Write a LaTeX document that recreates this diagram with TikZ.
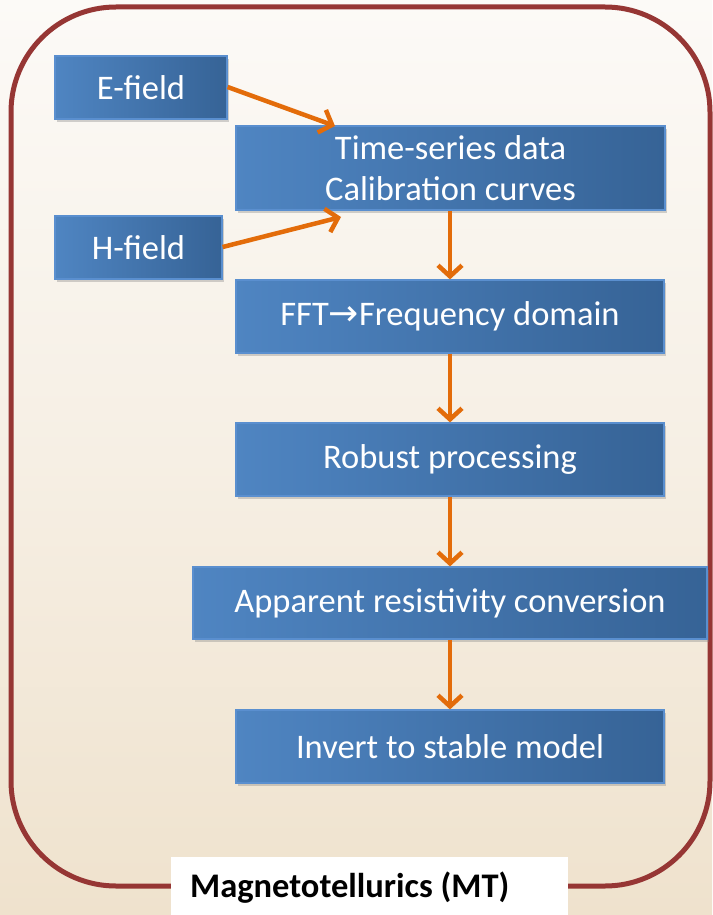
\documentclass[tikz,border=0pt]{standalone}
\usepackage{fontspec}
\setmainfont{Carlito}
\newfontfamily\arrowfont{DejaVu Sans}
\usetikzlibrary{arrows.meta,shadows}
\definecolor{boxL}{HTML}{4F85C2}
\definecolor{boxR}{HTML}{366396}
\definecolor{boxEdge}{HTML}{5A8FCF}
\definecolor{flowor}{HTML}{E36C0A}
\definecolor{frame}{HTML}{963634}
\definecolor{bgtop}{HTML}{FCFAF7}
\definecolor{bgmid}{HTML}{F6EFE4}
\definecolor{bgbot}{HTML}{EFE2CD}
\tikzset{
  stepbox/.style={draw=boxEdge, line width=1.2pt, left color=boxL, right color=boxR,
    text=white, font=\fontsize{34.5}{41}\selectfont, align=center, inner sep=0pt,
    drop shadow={opacity=0.35, shadow xshift=2pt, shadow yshift=-3pt}},
  flow/.style={draw=flowor, line width=4.5pt,
    -{Straight Barb[length=11pt,width=24pt,line width=4.5pt]}},
}
\begin{document}
\begin{tikzpicture}[x={(1pt,0)}, y={(0,-1pt)}]
\useasboundingbox (0,0) rectangle (712,915);
\shade[top color=bgtop, bottom color=bgbot, middle color=bgmid] (0,0) rectangle (712,915);
\draw[frame, line width=5pt, rounded corners=105pt] (11,7) rectangle (710,886);
% boxes
\node[stepbox, minimum width=172pt, minimum height=63pt] (e) at (141,87.5) {E-field};
\node[stepbox, minimum width=167pt, minimum height=63pt] (h) at (138.5,247.5) {H-field};
\node[stepbox, minimum width=429pt, minimum height=84pt] (ts) at (450.5,168) {Time-series data\\Calibration curves};
\node[stepbox, minimum width=428pt, minimum height=73pt] (fft) at (450,316.5) {FFT{\arrowfont\fontsize{36}{41}\selectfont →}Frequency domain};
\node[stepbox, minimum width=428pt, minimum height=73pt] (rob) at (450,459.5) {Robust processing};
\node[stepbox, minimum width=514pt, minimum height=72pt] (app) at (450,603) {Apparent resistivity conversion};
\node[stepbox, minimum width=428pt, minimum height=73pt] (inv) at (450,746.5) {Invert to stable model};
% connectors
\coordinate (eend) at (335,126);
\coordinate (hend) at (341,217);
\draw[flow] (e.east |- 0,87) -- (eend);
\draw[flow] (h.east |- 0,247) -- (hend);
\draw[flow] (ts.south -| 450,0) -- (fft.north -| 450,0);
\draw[flow] (fft.south) -- (rob.north);
\draw[flow] (rob.south) -- (app.north);
\draw[flow] (app.south) -- (inv.north);
% label
\node[fill=white, minimum width=397pt, minimum height=60pt, inner sep=0pt, anchor=north west,
  font=\fontsize{34.5}{41}\selectfont\bfseries, text=black] (lab) at (171,857) {Magnetotellurics (MT)\hspace*{40pt}};
\end{tikzpicture}
\end{document}
